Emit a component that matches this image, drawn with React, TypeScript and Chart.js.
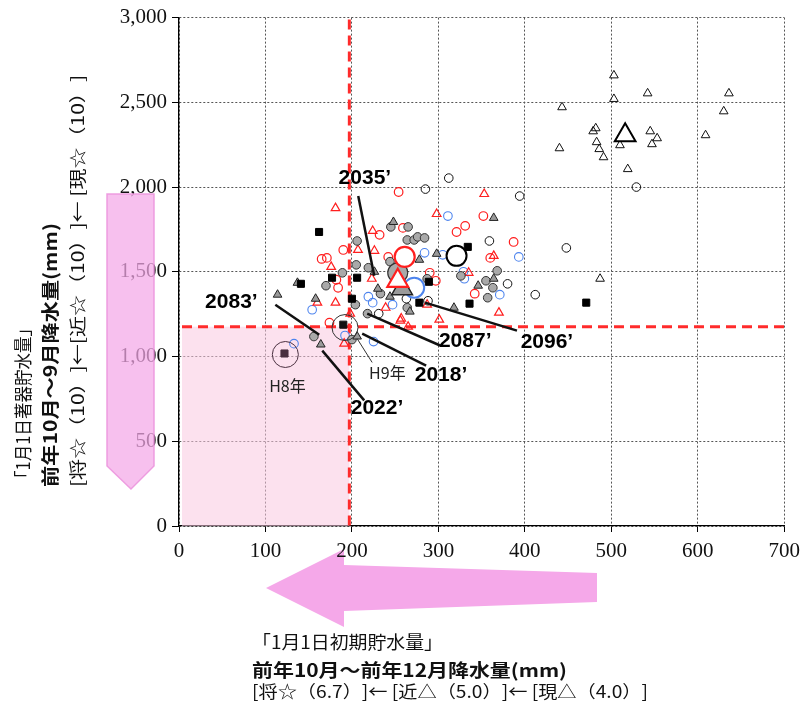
import React, { useEffect, useRef } from "react";
import { Chart, registerables } from "chart.js";

Chart.register(...registerables);

// ---- axes ----
const xTickValues = [0, 100, 200, 300, 400, 500, 600, 700];
const yTickValues = [0, 500, 1000, 1500, 2000, 2500, 3000];

// ---- thresholds (red dashed lines) ----
const thresholdX = 197;
const thresholdY = 1176;

// ---- series: small markers ----
const blackTriX = [503, 542, 636, 443, 503, 630, 479, 482, 545, 553, 547, 483, 486, 491, 440, 510, 609, 519, 487];
const blackTriY = [2659, 2553, 2553, 2471, 2520, 2447, 2329, 2347, 2329, 2288, 2253, 2265, 2224, 2176, 2229, 2247, 2306, 2106, 1459];

const blackCircleX = [529, 394, 312, 285, 359, 380, 412, 448, 231, 263, 288];
const blackCircleY = [2000, 1947, 2053, 1988, 1682, 1429, 1365, 1641, 1253, 1341, 1329];

const grayCircleX = [245, 265, 264, 272, 276, 284, 206, 205, 219, 189, 170, 287, 326, 355, 368, 363, 357, 264, 233, 204, 218, 156, 200, 244];
const grayCircleY = [1765, 1765, 1688, 1688, 1706, 1700, 1682, 1541, 1524, 1494, 1418, 1459, 1476, 1447, 1506, 1406, 1347, 1288, 1371, 1306, 1253, 1118, 1100, 1560];

const grayTriX = [248, 278, 298, 226, 364, 346, 318, 267, 244, 230, 158, 137, 114, 206, 164, 364];
const grayTriY = [1794, 1571, 1606, 1500, 1459, 1418, 1288, 1265, 1353, 1400, 1341, 1435, 1365, 1118, 1071, 1818];

const redCircleX = [254, 352, 321, 331, 259, 232, 190, 165, 171, 242, 387, 360, 290, 342, 182, 184, 174, 297];
const redCircleY = [1971, 1829, 1735, 1771, 1759, 1718, 1629, 1576, 1582, 1588, 1676, 1582, 1494, 1371, 1453, 1406, 1200, 1447];

const redTriX = [181, 353, 298, 224, 207, 176, 226, 364, 223, 335, 370, 287, 301, 265, 257, 239, 198, 160, 181, 191, 256];
const redTriY = [1876, 1959, 1841, 1741, 1629, 1529, 1624, 1594, 1459, 1494, 1259, 1306, 1218, 1176, 1224, 1288, 1253, 1318, 1318, 1076, 1212];

const blueCircleX = [311, 284, 393, 330, 371, 247, 219, 224, 154, 192, 225, 133, 305, 329];
const blueCircleY = [1829, 1612, 1588, 1459, 1365, 1306, 1353, 1318, 1276, 1124, 1088, 1076, 1600, 1500];

const blackSquareX = [162, 206, 177, 289, 336, 278, 200, 334, 141, 471];
const blackSquareY = [1735, 1465, 1465, 1441, 1312, 1318, 1341, 1647, 1429, 1318];

// ---- series: averages (large markers) ----
const bigBlackTri = [516, 2306];
const bigBlackCircle = [321, 1594];
const bigRedCircle = [261, 1588];
const bigGrayCircle = [253, 1494];
const bigRedTri = [253, 1447];
const bigGrayTri = [258, 1400];
const bigBlueCircle = [272, 1406];

// ---- drought years ----
const h8Square = [122, 1018];
const h8Ring = [123, 1012];
const h9Square = [190, 1188];
const h9Ring = [192, 1171];

// ---- annotations (data coordinates) ----
const yearLabels = ["2035’", "2083’", "2022’", "2018’", "2087’", "2096’"];
const yearLabelX = [215, 60.6, 229, 303, 331, 425.5];
const yearLabelY = [2053, 1323, 694, 888, 1088, 1082];
const leaderX1 = [207.3, 111.4, 165.7, 211.9, 217.7, 284.6];
const leaderY1 = [1947, 1306, 1035, 1135, 1253, 1318];
const leaderX2 = [225.8, 162.2, 214.2, 285.8, 302, 390.9];
const leaderY2 = [1476, 1129, 741, 947, 1065, 1153];

const yearNoteLabels = ["H9年", "H8年"];
const yearNoteX = [241, 125.4];
const yearNoteY = [906, 829];
const h9LeaderX = [206, 223.4];
const h9LeaderY = [1106, 965];

const xTitleLines = ["「1月1日初期貯水量」", "前年10月～前年12月降水量(mm)", "[将☆（6.7）]← [近△（5.0）]← [現△（4.0）]"];
const yTitleLines = ["「1月1日著器貯水量」", "前年10月～9月降水量(mm)", "[将☆（10）]←[近☆（10）]← [現☆（10）]"];

function zip(xs: number[], ys: number[]) {
  return xs.map((x, i) => ({ x, y: ys[i] }));
}
function one(p: number[]) {
  return [{ x: p[0], y: p[1] }];
}

const RED = "#ff1f1f";
const BLUE = "#4d84ee";
const JP = '"Noto Sans CJK JP"';

function fitText(ctx: CanvasRenderingContext2D, text: string, width: number, font: string) {
  ctx.font = font;
  const w = ctx.measureText(text).width;
  const s = width / w;
  ctx.save();
  ctx.scale(s, 1);
  ctx.fillText(text, 0, 0);
  ctx.restore();
}

const decor = {
  id: "decor",
  beforeDraw(chart: any) {
    const ctx = chart.ctx;
    ctx.save();
    // horizontal arrow (behind tick labels)
    ctx.fillStyle = "#f5a8e9";
    ctx.beginPath();
    ctx.moveTo(266, 588);
    ctx.lineTo(344, 549);
    ctx.lineTo(344, 565);
    ctx.lineTo(597, 573);
    ctx.lineTo(597, 602);
    ctx.lineTo(344, 611);
    ctx.lineTo(344, 627);
    ctx.closePath();
    ctx.fill();
    ctx.restore();
  },
  beforeDatasetsDraw(chart: any) {
    const { ctx, scales, chartArea } = chart;
    const x = scales.x, y = scales.y;
    const px0 = x.getPixelForValue(0) + 3;
    const px1 = x.getPixelForValue(thresholdX);
    const py0 = y.getPixelForValue(0);
    const py1 = y.getPixelForValue(thresholdY);
    ctx.save();
    ctx.fillStyle = "rgba(250,200,224,0.55)";
    ctx.fillRect(px0, py1, px1 - px0, py0 - py1);
    ctx.strokeStyle = "#ff2b2b";
    ctx.lineWidth = 3;
    ctx.setLineDash([10, 6]);
    ctx.beginPath();
    ctx.moveTo(px1, chartArea.top + 2);
    ctx.lineTo(px1, chartArea.bottom);
    ctx.stroke();
    ctx.beginPath();
    ctx.moveTo(px0, py1);
    ctx.lineTo(chartArea.right, py1);
    ctx.stroke();
    ctx.restore();
  },
  afterDatasetsDraw(chart: any) {
    const { ctx, scales } = chart;
    const x = scales.x, y = scales.y;
    ctx.save();
    ctx.strokeStyle = "#111";
    ctx.lineWidth = 2.5;
    for (let i = 0; i < yearLabels.length; i++) {
      ctx.beginPath();
      ctx.moveTo(x.getPixelForValue(leaderX1[i]), y.getPixelForValue(leaderY1[i]));
      ctx.lineTo(x.getPixelForValue(leaderX2[i]), y.getPixelForValue(leaderY2[i]));
      ctx.stroke();
    }
    ctx.lineWidth = 1;
    ctx.strokeStyle = "#333";
    ctx.beginPath();
    ctx.moveTo(x.getPixelForValue(h9LeaderX[0]), y.getPixelForValue(h9LeaderY[0]));
    ctx.lineTo(x.getPixelForValue(h9LeaderX[1]), y.getPixelForValue(h9LeaderY[1]));
    ctx.stroke();

    ctx.fillStyle = "#000";
    ctx.textAlign = "center";
    ctx.textBaseline = "middle";
    ctx.font = 'bold 21px "Liberation Sans"';
    for (let i = 0; i < yearLabels.length; i++) {
      ctx.fillText(yearLabels[i], x.getPixelForValue(yearLabelX[i]), y.getPixelForValue(yearLabelY[i]));
    }
    ctx.font = "16px " + JP;
    ctx.fillStyle = "#222";
    for (let i = 0; i < yearNoteLabels.length; i++) {
      ctx.fillText(yearNoteLabels[i], x.getPixelForValue(yearNoteX[i]), y.getPixelForValue(yearNoteY[i]));
    }
    ctx.restore();
  },
  afterDraw(chart: any) {
    const ctx = chart.ctx;
    ctx.save();
    // vertical arrow (over tick labels, translucent)
    ctx.fillStyle = "rgba(244,168,232,0.72)";
    ctx.strokeStyle = "rgba(236,150,222,0.9)";
    ctx.lineWidth = 1.5;
    ctx.beginPath();
    ctx.moveTo(107, 194);
    ctx.lineTo(154, 194);
    ctx.lineTo(154, 466);
    ctx.lineTo(131, 489);
    ctx.lineTo(107, 466);
    ctx.closePath();
    ctx.fill();
    ctx.stroke();

    // x-axis title
    ctx.fillStyle = "#111";
    ctx.textAlign = "left";
    ctx.textBaseline = "middle";
    const xFonts = ["18px " + JP, "bold 18px " + JP, "17px " + JP];
    const xW = [191, 315, 396];
    const xY = [642, 670, 692];
    for (let i = 0; i < 3; i++) {
      ctx.save();
      ctx.translate(252, xY[i]);
      fitText(ctx, xTitleLines[i], xW[i], xFonts[i]);
      ctx.restore();
    }
    // y-axis title (rotated)
    const yFonts = ["18px " + JP, "bold 18px " + JP, "17px " + JP];
    const yW = [167, 264, 412];
    const yX = [23, 50, 78];
    for (let i = 0; i < 3; i++) {
      ctx.save();
      ctx.translate(yX[i], 487);
      ctx.rotate(-Math.PI / 2);
      fitText(ctx, yTitleLines[i], yW[i], yFonts[i]);
      ctx.restore();
    }
    ctx.restore();
  },
};

function small(data: any[], style: string, border: string, fill: string, r: number, bw = 1) {
  return {
    data,
    pointStyle: style,
    pointRadius: r,
    pointBorderColor: border,
    pointBackgroundColor: fill,
    pointBorderWidth: bw,
    borderColor: border,
    backgroundColor: fill,
    showLine: false,
  };
}

export default function App() {
  const ref = useRef<HTMLCanvasElement | null>(null);
  useEffect(() => {
    const canvas = ref.current;
    if (!canvas) return;
    const datasets = [
      small(one(bigRedTri), "triangle", RED, "#ffffff", 12, 2.2),
      small(one(bigGrayTri), "triangle", "#222", "#9a9a9a", 12, 1.5),
      small(one(bigBlueCircle), "circle", BLUE, "rgba(255,255,255,0.85)", 10, 2),
      small(one(bigRedCircle), "circle", RED, "#ffffff", 10, 2.2),
      small(one(bigGrayCircle), "circle", "#333", "#a9a9a9", 10, 1.2),
      small(one(bigBlackCircle), "circle", "#000", "#ffffff", 10, 2),
      small(one(bigBlackTri), "triangle", "#000", "#ffffff", 12, 2),
      small(one(h9Ring), "circle", "#333", "rgba(0,0,0,0)", 13, 1),
      small(one(h8Ring), "circle", "#4a3040", "rgba(0,0,0,0)", 13, 1),
      small(one(h9Square), "rect", "#111", "#111", 5, 1),
      small(one(h8Square), "rect", "#4a3040", "#4a3040", 5, 1),
      small(zip(blackSquareX, blackSquareY), "rect", "#000", "#000", 5, 1),
      small(zip(grayTriX, grayTriY), "triangle", "#222", "#9a9a9a", 5, 1),
      small(zip(grayCircleX, grayCircleY), "circle", "#333", "#a9a9a9", 4.3, 1),
      small(zip(redTriX, redTriY), "triangle", RED, "rgba(255,255,255,0)", 5, 1.2),
      small(zip(redCircleX, redCircleY), "circle", RED, "rgba(255,255,255,0)", 4.3, 1.2),
      small(zip(blueCircleX, blueCircleY), "circle", BLUE, "rgba(255,255,255,0)", 4.3, 1.1),
      small(zip(blackCircleX, blackCircleY), "circle", "#111", "rgba(255,255,255,0)", 4.3, 1),
      small(zip(blackTriX, blackTriY), "triangle", "#111", "rgba(255,255,255,0)", 5, 1),
    ];
    const tickFont = { family: '"Liberation Serif"', size: 21 };
    const chart = new Chart(canvas, {
      type: "scatter",
      data: { datasets: datasets as any },
      options: {
        animation: false,
        responsive: true,
        maintainAspectRatio: false,
        events: [],
        layout: { padding: { top: 16, right: 22, left: 0, bottom: 0 } },
        plugins: { legend: { display: false }, tooltip: { enabled: false } },
        scales: {
          x: {
            type: "linear",
            min: 0,
            max: 700,
            afterBuildTicks: (s: any) => {
              s.ticks = xTickValues.map((v) => ({ value: v }));
            },
            afterFit: (s: any) => {
              s.height = 177;
            },
            ticks: {
              color: "#111",
              font: tickFont,
              padding: 7,
              maxRotation: 0,
              callback: (v: any) => Number(v).toLocaleString("en-US"),
            },
            grid: { color: "#555", lineWidth: 1, tickLength: 6, tickColor: "#000", tickBorderDash: [] },
            border: { display: true, color: "#000", width: 1.3, dash: [2, 2] },
          },
          y: {
            type: "linear",
            min: 0,
            max: 3000,
            afterBuildTicks: (s: any) => {
              s.ticks = yTickValues.map((v) => ({ value: v }));
            },
            afterFit: (s: any) => {
              s.width = 179;
            },
            ticks: {
              color: "#111",
              font: tickFont,
              padding: 5,
              callback: (v: any) => Number(v).toLocaleString("en-US"),
            },
            grid: { color: "#555", lineWidth: 1, tickLength: 7, tickColor: "#000", tickBorderDash: [] },
            border: { display: true, color: "#000", width: 1.3, dash: [2, 2] },
          },
        },
      },
      plugins: [decor],
    } as any);
    return () => chart.destroy();
  }, []);
  return (
    <div style={{ position: "fixed", left: 0, top: 0, width: 807, height: 703, background: "#fff" }}>
      <canvas ref={ref} />
    </div>
  );
}
